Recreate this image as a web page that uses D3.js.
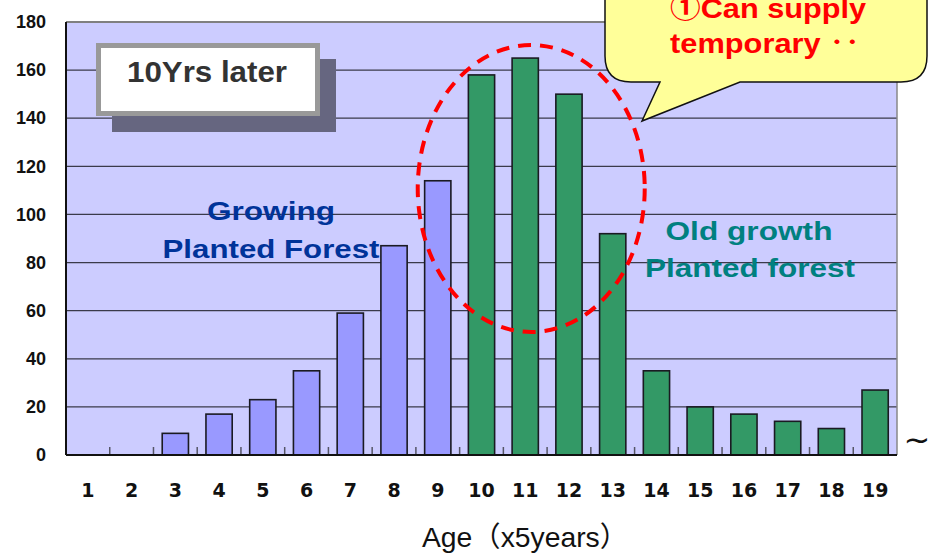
<!DOCTYPE html>
<html>
<head>
<meta charset="utf-8">
<script src="https://cdn.jsdelivr.net/npm/d3@7"></script>
<style>
  html, body { margin: 0; padding: 0; background: #ffffff; }
  svg { display: block; }
</style>
</head>
<body>
<svg id="chart" width="928" height="554"></svg>
<script>
// Planted forest area by age class (x5 years), ten years on
const ageClasses = ["1","2","3","4","5","6","7","8","9","10","11","12","13","14","15","16","17","18","19"];
const areaValues = [0, 0, 9, 17, 23, 35, 59, 87, 114, 158, 165, 150, 92, 35, 20, 17, 14, 11, 27];
// Classes 1-9 are still growing; 10 and up are mature stands
const groupOf = ["grow","grow","grow","grow","grow","grow","grow","grow","grow",
                 "old","old","old","old","old","old","old","old","old","old"];
const yTickValues = [0, 20, 40, 60, 80, 100, 120, 140, 160, 180];
const yDomain = [0, 180];

const groupColor = { grow: "#9999FF", old: "#339966" };

const svg = d3.select("#chart");
const plot = { left: 66, right: 897, top: 22, bottom: 455 };

const x = d3.scaleBand()
  .domain(ageClasses)
  .range([plot.left, plot.right])
  .paddingInner(0.4)
  .paddingOuter(0.2);

const y = d3.scaleLinear()
  .domain(yDomain)
  .range([plot.bottom, plot.top]);

// Plot background
svg.append("rect")
  .attr("x", plot.left).attr("y", plot.top)
  .attr("width", plot.right - plot.left).attr("height", plot.bottom - plot.top)
  .attr("fill", "#CCCCFF");

// Gridlines
svg.append("g")
  .selectAll("line")
  .data(yTickValues.filter(v => v > 0))
  .join("line")
  .attr("x1", plot.left).attr("x2", plot.right)
  .attr("y1", d => y(d)).attr("y2", d => y(d))
  .attr("stroke", d => d === yDomain[1] ? "#808080" : "#3a3a4a")
  .attr("stroke-width", d => d === yDomain[1] ? 2 : 1.3);

// Right frame edge
svg.append("line")
  .attr("x1", plot.right).attr("x2", plot.right)
  .attr("y1", plot.top).attr("y2", plot.bottom)
  .attr("stroke", "#888888").attr("stroke-width", 1.5);

// Small inner ticks between categories on the baseline
const boundaries = ageClasses.slice(1).map(c => x(c) - x.step() * x.paddingInner() / 2);
svg.append("g")
  .selectAll("line")
  .data(boundaries)
  .join("line")
  .attr("x1", d => d).attr("x2", d => d)
  .attr("y1", plot.bottom).attr("y2", plot.bottom - 8)
  .attr("stroke", "#555566").attr("stroke-width", 1.5);

// Bars
svg.append("g")
  .selectAll("rect")
  .data(ageClasses.map((c, i) => ({ c, v: areaValues[i], g: groupOf[i] })).filter(d => d.v > 0))
  .join("rect")
  .attr("x", d => x(d.c))
  .attr("y", d => y(d.v))
  .attr("width", x.bandwidth())
  .attr("height", d => y(0) - y(d.v))
  .attr("fill", d => groupColor[d.g])
  .attr("stroke", "#1a1a22")
  .attr("stroke-width", 1.6);

// Axes lines
svg.append("line")
  .attr("x1", plot.left).attr("x2", plot.left)
  .attr("y1", plot.top).attr("y2", plot.bottom)
  .attr("stroke", "#111111").attr("stroke-width", 2);
svg.append("line")
  .attr("x1", plot.left).attr("x2", plot.right)
  .attr("y1", plot.bottom).attr("y2", plot.bottom)
  .attr("stroke", "#111111").attr("stroke-width", 2);

// Y axis labels
const yAxis = d3.axisLeft(y).tickValues(yTickValues).tickSize(0).tickPadding(20);
const yG = svg.append("g").attr("transform", `translate(${plot.left},0)`).call(yAxis);
yG.select(".domain").remove();
yG.selectAll("text")
  .attr("font-family", "'Liberation Sans', Arial, sans-serif")
  .attr("font-weight", "bold")
  .attr("font-size", 18)
  .attr("fill", "#111111");

// X axis labels
const xAxis = d3.axisBottom(x).tickSize(0).tickPadding(29);
const xG = svg.append("g").attr("transform", `translate(0,${plot.bottom})`).call(xAxis);
xG.select(".domain").remove();
xG.selectAll("text")
  .attr("font-family", "'DejaVu Sans', Verdana, sans-serif")
  .attr("font-weight", "bold")
  .attr("font-size", 19)
  .attr("fill", "#111111");

// Text helper: centred, with a fixed run length so the glyphs are set wide
function wideText(str, cx, baseline, size, len, opts) {
  return svg.append("text")
    .attr("x", cx).attr("y", baseline)
    .attr("text-anchor", "middle")
    .attr("font-family", opts.family || "'Liberation Sans', Arial, sans-serif")
    .attr("font-weight", opts.weight || "bold")
    .attr("font-size", size)
    .attr("fill", opts.color)
    .attr("textLength", len)
    .attr("lengthAdjust", "spacingAndGlyphs")
    .text(str);
}

// Axis title
wideText("Age（x5years）", 525, 547, 28, 206,
  { family: "'Liberation Sans', 'Noto Sans CJK JP', sans-serif", weight: "normal", color: "#111111" });

// Break mark past the last class
svg.append("text")
  .attr("x", 917).attr("y", 451)
  .attr("text-anchor", "middle")
  .attr("font-family", "'DejaVu Sans', sans-serif")
  .attr("font-size", 32)
  .attr("fill", "#111111")
  .text("~");

// "10Yrs later" label box with drop shadow
svg.append("rect")
  .attr("x", 112).attr("y", 59).attr("width", 224).attr("height", 73)
  .attr("fill", "#666680");
svg.append("rect")
  .attr("x", 98.5).attr("y", 45.5).attr("width", 219).attr("height", 68)
  .attr("fill", "#ffffff").attr("stroke", "#999999").attr("stroke-width", 5);
wideText("10Yrs later", 207, 82, 30, 160, { color: "#333333" });

// Group captions
wideText("Growing", 271, 220, 26, 128, { color: "#003399" });
wideText("Planted Forest", 271, 258, 26, 217, { color: "#003399" });
wideText("Old growth", 749, 240, 26, 167, { color: "#008080" });
wideText("Planted forest", 750, 277, 26, 210, { color: "#008080" });

// Dashed ring around the peak classes (10-12)
const ringCx = x("11") + x.bandwidth() / 2 + 6;
svg.append("ellipse")
  .attr("cx", ringCx).attr("cy", 188.5)
  .attr("rx", 113.5).attr("ry", 143.5)
  .attr("fill", "none")
  .attr("stroke", "#FF0000")
  .attr("stroke-width", 4)
  .attr("stroke-dasharray", "13 9");

// Speech-bubble callout
const bx0 = 605, bx1 = 927, by0 = -40, by1 = 82, r = 26;
const calloutPath = d3.path();
calloutPath.moveTo(bx0 + r, by0);
calloutPath.lineTo(bx1 - r, by0);
calloutPath.quadraticCurveTo(bx1, by0, bx1, by0 + r);
calloutPath.lineTo(bx1, by1 - r);
calloutPath.quadraticCurveTo(bx1, by1, bx1 - r, by1);
calloutPath.lineTo(740, by1);
calloutPath.lineTo(642, 121);
calloutPath.lineTo(660, by1);
calloutPath.lineTo(bx0 + r, by1);
calloutPath.quadraticCurveTo(bx0, by1, bx0, by1 - r);
calloutPath.lineTo(bx0, by0 + r);
calloutPath.closePath();
svg.append("path")
  .attr("d", calloutPath.toString())
  .attr("fill", "#FFFF99")
  .attr("stroke", "#111111")
  .attr("stroke-width", 1.5);

const calloutFont = "'Liberation Sans', 'Noto Sans CJK JP', sans-serif";
wideText("①Can supply", 768, 18, 28, 196, { family: calloutFont, color: "#FF0000" });
wideText("temporary ‥", 765, 53, 28, 190, { family: calloutFont, color: "#FF0000" });
</script>
</body>
</html>
